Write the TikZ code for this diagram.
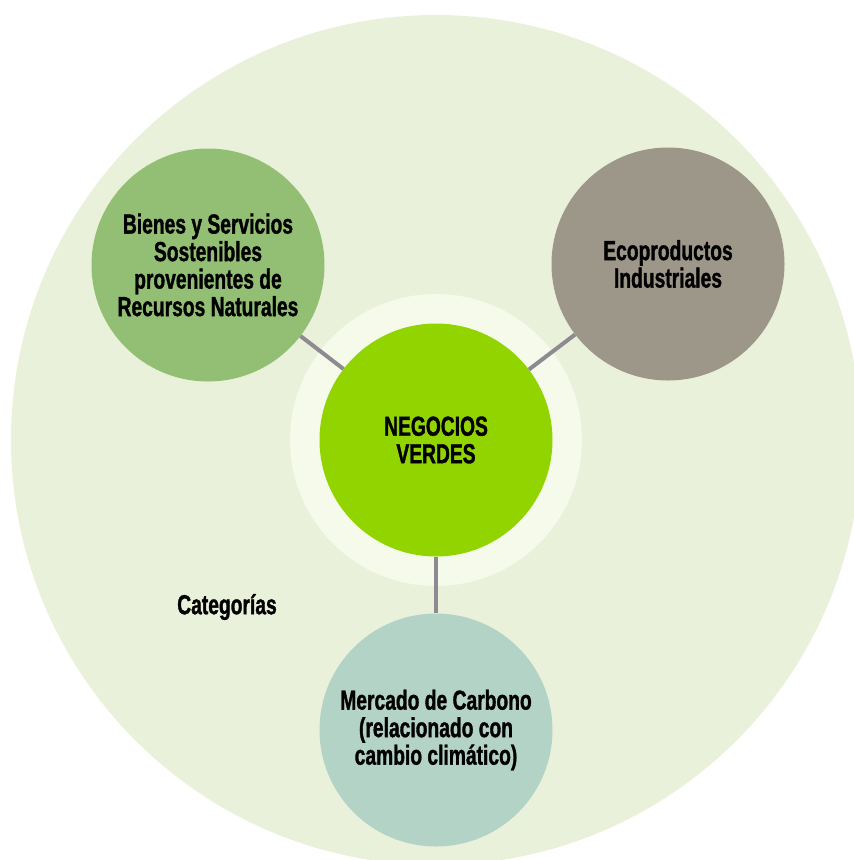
\documentclass[tikz,border=0pt]{standalone}
\usepackage{fontspec}
\setmainfont[FakeStretch=0.70,BoldFeatures={FakeBold=1.2}]{Liberation Sans}
\definecolor{bgc}{HTML}{EAF1DA}
\definecolor{ringc}{HTML}{F6FAEB}
\definecolor{corec}{HTML}{92D400}
\definecolor{leftc}{HTML}{93BF75}
\definecolor{rightc}{HTML}{9D978A}
\definecolor{botc}{HTML}{B3D3C7}
\definecolor{linkc}{HTML}{8E8A91}
\tikzset{
  bub/.style={circle,minimum size=233pt,inner sep=0pt,align=center,
    font=\fontsize{27.5}{27.5}\selectfont\bfseries,text=black},
  link/.style={draw=linkc,line width=4pt}
}
\begin{document}
\begin{tikzpicture}[x=1pt,y=-1pt]
\useasboundingbox (0,0) rectangle (854,860);
\clip (0,0) rectangle (854,860);
\node[circle,fill=bgc,minimum size=850pt,inner sep=0pt] (big) at (436,440) {};
\node[circle,fill=ringc,minimum size=292pt,inner sep=0pt] (ring) at (436,440) {};
\node[bub,fill=leftc] (bienes) at (208,265) {Bienes y Servicios\\Sostenibles\\provenientes de\\Recursos Naturales};
\node[bub,fill=rightc] (eco) at (668,264) {Ecoproductos\\Industriales};
\node[bub,fill=botc] (carb) at (436,730) {Mercado de Carbono\\(relacionado con\\cambio climático)};
\node[bub,fill=corec] (core) at (436,440) {NEGOCIOS\\VERDES};
\draw[link] (core) -- (bienes);
\draw[link] (core) -- (eco);
\draw[link] (core) -- (carb);
\node[font=\fontsize{27.5}{27.5}\selectfont\bfseries] (cat) at (227,607) {Categorías};
\end{tikzpicture}
\end{document}
